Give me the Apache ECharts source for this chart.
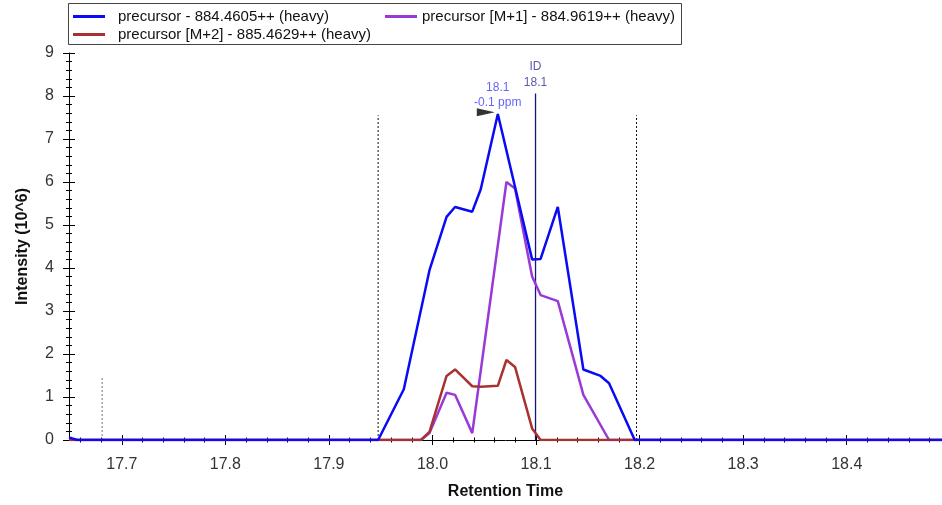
<!DOCTYPE html>
<html><head><meta charset="utf-8">
<script src="https://cdn.jsdelivr.net/npm/echarts@6/dist/echarts.min.js"></script>
<style>html,body{margin:0;padding:0;background:#fff}#c{width:942px;height:505px}</style>
</head><body><div id="c"></div>
<script>
// ---- data ----
const seriesNames = ['precursor - 884.4605++ (heavy)', 'precursor [M+1] - 884.9619++ (heavy)', 'precursor [M+2] - 885.4629++ (heavy)'];
const blueTimes  = [17.649, 17.657, 17.9475, 17.9723, 17.9971, 18.0136, 18.0218, 18.0384, 18.0466, 18.0631, 18.0962, 18.1044, 18.1210, 18.1457, 18.1623, 18.1705, 18.1953, 18.492];
const blueValues = [0.06, 0, 0, 1.18, 3.95, 5.19, 5.42, 5.31, 5.83, 7.58, 4.20, 4.21, 5.42, 1.64, 1.49, 1.32, 0, 0];
const purpleTimes  = [17.649, 17.9888, 17.9971, 18.0136, 18.0218, 18.0384, 18.0714, 18.0797, 18.0962, 18.1044, 18.1210, 18.1457, 18.1705, 18.492];
const purpleValues = [0, 0, 0.16, 1.10, 1.05, 0.16, 6.00, 5.85, 3.80, 3.37, 3.23, 1.05, 0, 0];
const redTimes  = [17.649, 17.9888, 17.9971, 18.0136, 18.0218, 18.0384, 18.0466, 18.0631, 18.0714, 18.0797, 18.0962, 18.1044, 18.492];
const redValues = [0, 0, 0.19, 1.49, 1.64, 1.25, 1.24, 1.26, 1.86, 1.70, 0.27, 0, 0];
const boundaryTimes = [17.9475, 18.197];
const boundaryHeight = 7.55;
const markerTime = 17.681;
const markerHeight = 1.44;
const idTime = 18.0995;
const idHeight = 8.06;
const idLabel = ['ID', '18.1'];
const peakTime = 18.063;
const peakLabel = ['18.1', '-0.1 ppm'];
const xMajorTicks = [17.7, 17.8, 17.9, 18.0, 18.1, 18.2, 18.3, 18.4];
const xMinorTicks = [17.66,17.68,17.72,17.74,17.76,17.78,17.82,17.84,17.86,17.88,17.92,17.94,17.96,17.98,18.02,18.04,18.06,18.08,18.12,18.14,18.16,18.18,18.22,18.24,18.26,18.28,18.32,18.34,18.36,18.38,18.42,18.44,18.46,18.48];
const xMin = 17.649, xMax = 18.492;
const yMin = 0, yMax = 9, yStep = 1;

// ---- build ----
const FONT = 'Arial, "Liberation Sans", sans-serif';
const colors = ['#0a0af5', '#9a3ad6', '#a83232'];
const zip = (t, v) => t.map((x, i) => [x, v[i]]);

function xAxisDef(ticks, inside, len, extra) {
  return Object.assign({
    type: 'value', position: 'bottom', min: xMin, max: xMax,
    axisLine: { show: false },
    axisTick: { show: true, inside: inside, length: len, customValues: ticks, lineStyle: { color: '#000', width: 1 } },
    axisLabel: { show: false },
    splitLine: { show: false }
  }, extra || {});
}
function yAxisDef(inside, extra) {
  return Object.assign({
    type: 'value', position: 'left', min: yMin, max: yMax, interval: yStep,
    axisLine: { show: false },
    axisTick: { show: true, inside: inside, length: 6, lineStyle: { color: '#000' } },
    minorTick: { show: true, splitNumber: 5, length: 3, lineStyle: { color: '#000' } },
    axisLabel: { show: false },
    splitLine: { show: false }
  }, extra || {});
}
function legendDef(name, left, top, pad) {
  return { data: [name], left: left, top: top, icon: 'rect', itemWidth: 32, itemHeight: 3,
    textStyle: { fontFamily: FONT, fontSize: 15, color: '#111', padding: [0, 0, 0, pad] } };
}

const vline = (t, h, color, type, width) => ({
  type: 'line', data: [[t, 0], [t, h]], symbol: 'none', silent: true,
  lineStyle: { color: color, type: type, width: width }, z: 1
});

const option = {
  animation: false,
  grid: { left: 69, right: 0, top: 53, bottom: 65 },
  legend: [
    legendDef(seriesNames[0], 68, 4, 8),
    legendDef(seriesNames[1], 380, 4, 0),
    legendDef(seriesNames[2], 68, 22, 8)
  ],
  graphic: [
    { type: 'rect', shape: { x: 68.5, y: 3.5, width: 613, height: 41 }, style: { fill: 'none', stroke: '#444', lineWidth: 1 }, z: -1 }
  ],
  xAxis: [
    xAxisDef(xMajorTicks, false, 5, {
      axisLine: { show: true, lineStyle: { color: '#000', width: 1 } },
      axisLabel: { show: true, customValues: xMajorTicks, formatter: v => v.toFixed(1), fontFamily: FONT, fontSize: 16, color: '#333', margin: 17 },
      name: 'Retention Time', nameLocation: 'middle', nameGap: 44,
      nameTextStyle: { fontFamily: FONT, fontSize: 16, fontWeight: 'bold', color: '#111' }
    }),
    xAxisDef(xMajorTicks, true, 5),
    xAxisDef(xMinorTicks, false, 2.5),
    xAxisDef(xMinorTicks, true, 2.5)
  ],
  yAxis: [
    yAxisDef(false, {
      axisLine: { show: true, lineStyle: { color: '#000', width: 1 } },
      axisLabel: { show: true, fontFamily: FONT, fontSize: 16, color: '#333', margin: 15 },
      name: 'Intensity (10^6)', nameLocation: 'middle', nameGap: 38,
      nameTextStyle: { fontFamily: FONT, fontSize: 16, fontWeight: 'bold', color: '#111' }
    }),
    yAxisDef(true)
  ],
  series: [
    vline(boundaryTimes[0], boundaryHeight, '#111', [2, 2], 1),
    vline(boundaryTimes[1], boundaryHeight, '#111', [2, 2], 1),
    vline(markerTime, markerHeight, '#777', [2, 2], 1),
    vline(idTime, idHeight, '#16167a', 'solid', 1.3),
    { name: seriesNames[0], type: 'line', data: zip(blueTimes, blueValues), symbol: 'none', z: 4,
      lineStyle: { color: colors[0], width: 2.5 }, itemStyle: { color: colors[0] } },
    { name: seriesNames[1], type: 'line', data: zip(purpleTimes, purpleValues), symbol: 'none', z: 3,
      lineStyle: { color: colors[1], width: 2.5 }, itemStyle: { color: colors[1] } },
    { name: seriesNames[2], type: 'line', data: zip(redTimes, redValues), symbol: 'none', z: 3,
      lineStyle: { color: colors[2], width: 2.5 }, itemStyle: { color: colors[2] } },
    { type: 'scatter', data: [[18.0515, 7.62]], symbol: 'triangle', symbolSize: [8, 18], symbolRotate: -90,
      itemStyle: { color: '#000' }, silent: true, z: 5 },
    { type: 'scatter', data: [[peakTime, 8.03]], symbolSize: 1, itemStyle: { color: 'rgba(0,0,0,0)' }, silent: true, z: 5,
      label: { show: true, position: 'inside', formatter: peakLabel.join('\n'), color: '#3b3bff', fontFamily: FONT, fontSize: 12, lineHeight: 15 } },
    { type: 'scatter', data: [[idTime, 8.49]], symbolSize: 1, itemStyle: { color: 'rgba(0,0,0,0)' }, silent: true, z: 5,
      label: { show: true, position: 'inside', formatter: idLabel.join('\n'), color: '#2e2e99', fontFamily: FONT, fontSize: 12, lineHeight: 16 } }
  ]
};
const chart = echarts.init(document.getElementById('c'), null, { renderer: 'canvas' });
chart.setOption(option);
</script>
</body></html>
